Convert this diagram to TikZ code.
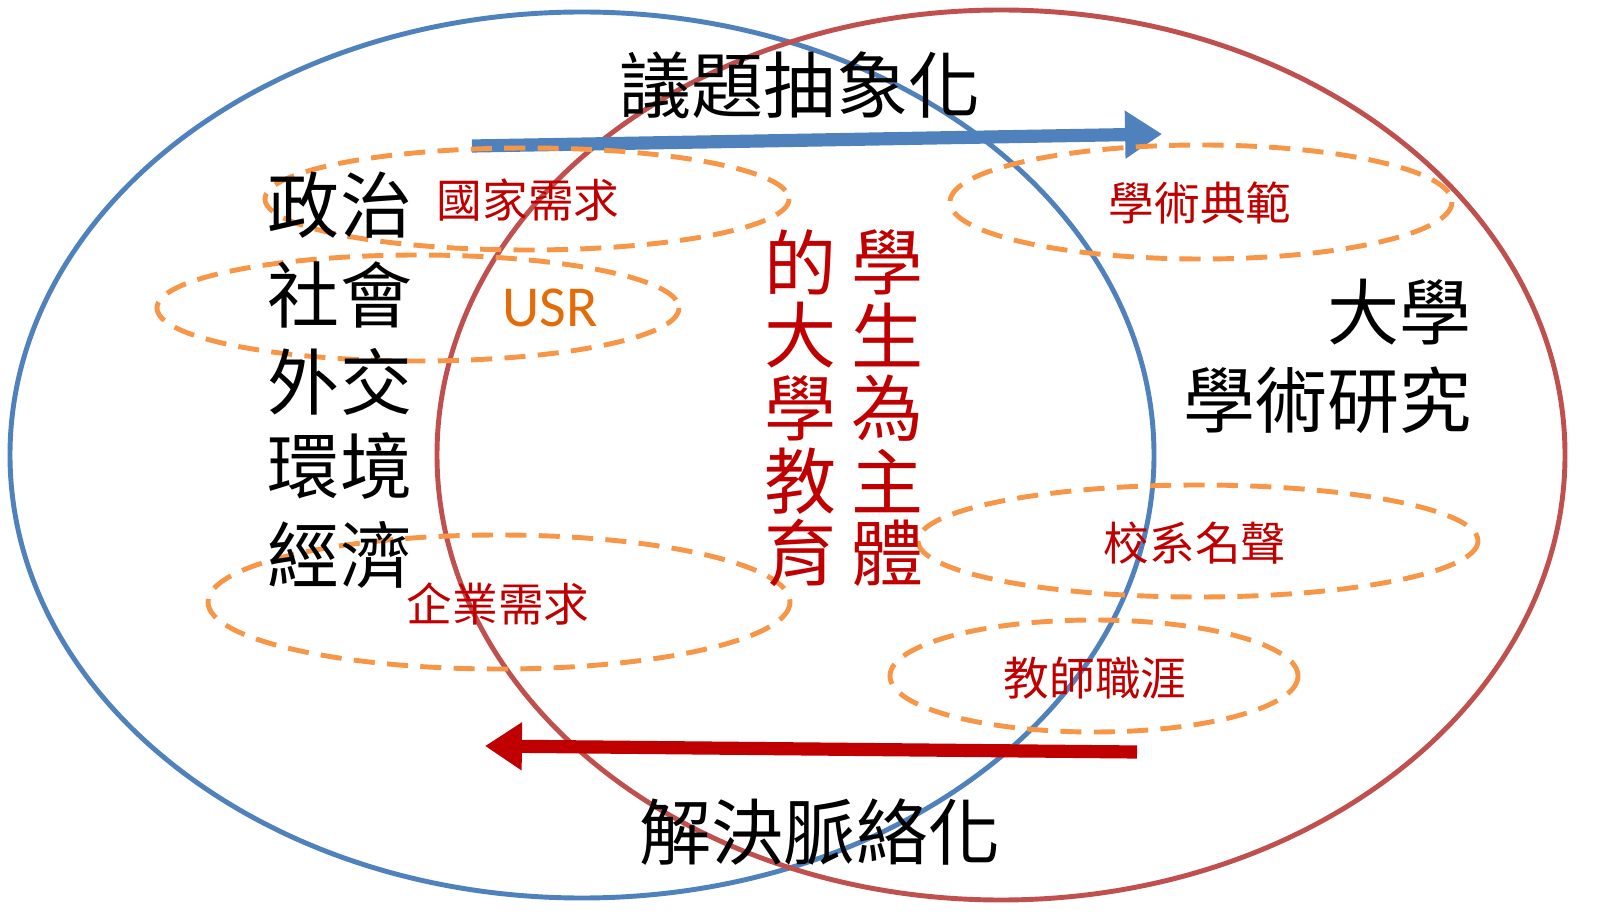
\documentclass[tikz,border=0pt]{standalone}
\usepackage{fontspec}
\setmainfont{Noto Sans CJK TC}
\newfontfamily\usrfont{Carlito}
\usetikzlibrary{arrows.meta}
\definecolor{setblue}{HTML}{4F81BD}
\definecolor{setred}{HTML}{C0504D}
\definecolor{hooporange}{HTML}{F79646}
\definecolor{labelred}{HTML}{C00000}
\definecolor{usrorange}{HTML}{E36C09}
\tikzset{
  setline/.style={line width=2.8pt},
  hoop/.style={hooporange, line width=2.8pt, dash pattern=on 12pt off 7pt},
  bigtext/.style={font=\fontsize{41}{41}\selectfont, inner sep=0pt},
  smalltext/.style={font=\fontsize{26}{26}\selectfont, text=labelred, inner sep=0pt},
  flow/.style={line width=7.5pt, -{Triangle[length=21pt, width=26pt]}},
}
\begin{document}
\begin{tikzpicture}[x=0.02cm, y=-0.02cm]
        \useasboundingbox (0,0) rectangle (1609,918);

        \draw[setline, setblue] (582,455) ellipse [x radius=572, y radius=443];
        \draw[setline, setred] (1001,455) ellipse [x radius=564, y radius=445];

        \coordinate (abstract-from) at (472,146);
        \coordinate (abstract-to) at (1162,134);
        \draw[flow, setblue] (abstract-from) -- (abstract-to);
        \coordinate (context-from) at (1137,752);
        \coordinate (context-to) at (485,746);
        \draw[flow, labelred] (context-from) -- (context-to);

        \draw[hoop] (527,199) ellipse [x radius=262, y radius=51];
        \draw[hoop] (418,308) ellipse [x radius=261, y radius=53];
        \draw[hoop] (1201,202) ellipse [x radius=251, y radius=57];
        \draw[hoop] (1198,541) ellipse [x radius=280, y radius=56];
        \draw[hoop] (499,602) ellipse [x radius=291, y radius=67];
        \draw[hoop] (1094,676) ellipse [x radius=204, y radius=56];

        \node[bigtext] (abstract) at (800,85) {議題抽象化};
        \node[bigtext] (context) at (820,832) {解決脈絡化};

        \foreach \t/\y [count=\i] in {政治/205, 社會/295, 外交/382, 環境/466, 經濟/555}
            \node[bigtext] (field\i) at (340,\y) {\t};

        \node[bigtext, anchor=east] (university) at (1472,312) {大學};
        \node[bigtext, anchor=east] (research) at (1472,400) {學術研究};

        \foreach \t/\y [count=\i] in {的/262, 大/335, 學/408, 教/481, 育/553}
            \node[bigtext, text=labelred] (education\i) at (801,\y) {\t};
        \foreach \t/\y [count=\i] in {學/262, 生/335, 為/408, 主/481, 體/553}
            \node[bigtext, text=labelred] (student\i) at (888,\y) {\t};

        \node[smalltext] (nation) at (528,200) {國家需求};
        \node[font=\usrfont\fontsize{33}{33}\selectfont, text=usrorange, inner sep=0pt] (usr) at (550,308) {USR};
        \node[smalltext] (paradigm) at (1200,203) {學術典範};
        \node[smalltext] (reputation) at (1195,543) {校系名聲};
        \node[smalltext] (industry) at (498,604) {企業需求};
        \node[smalltext] (career) at (1095,678) {教師職涯};
\end{tikzpicture}
\end{document}
